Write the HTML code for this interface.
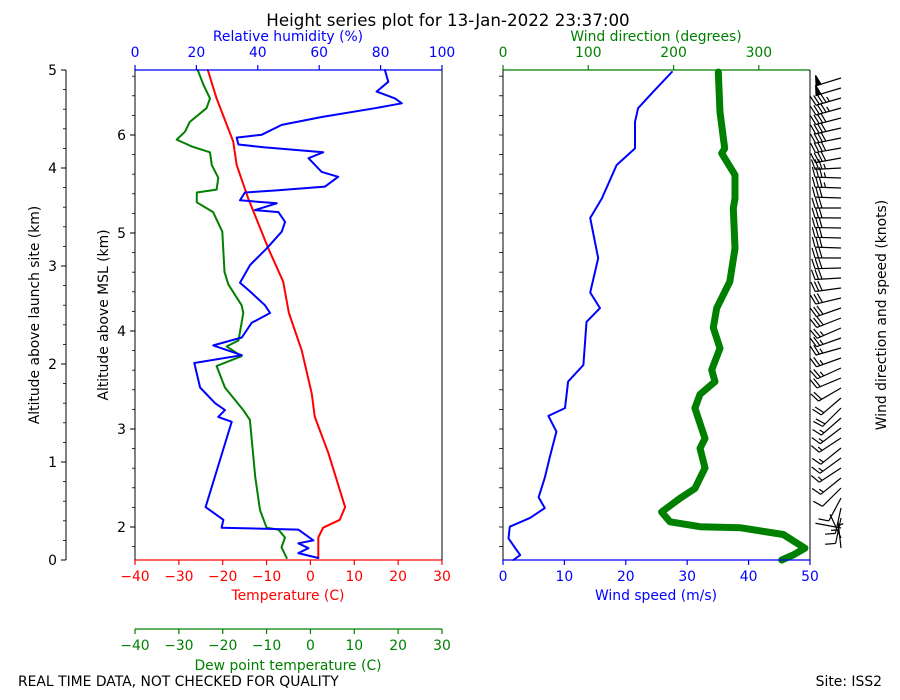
<!DOCTYPE html>
<html><head><meta charset="utf-8"><style>
body{margin:0;background:#fff}
svg{display:block;font-family:"DejaVu Sans","Liberation Sans",sans-serif}
</style></head><body>
<svg id="chart" width="900" height="700" viewBox="0 0 900 700" xmlns="http://www.w3.org/2000/svg">
<text x="448" y="26" font-size="16.7" text-anchor="middle">Height series plot for 13-Jan-2022 23:37:00</text>
<text x="18" y="686" font-size="13.9">REAL TIME DATA, NOT CHECKED FOR QUALITY</text>
<text x="882" y="686" font-size="13.9" text-anchor="end">Site: ISS2</text>
<g id="g"></g>
</svg>
<script>
// ---- data (altitude above launch site, km) ----
const tempAlt=[5.0,4.71,4.27,4.03,3.69,3.18,2.84,2.52,2.14,1.70,1.46,1.09,0.54,0.41,0.33,0.23,0.02];
const tempVal=[-23.4,-21.4,-17.6,-16.8,-14.2,-9.6,-6.2,-4.9,-2.0,0.3,1.0,4.1,7.9,6.7,2.9,1.8,1.8];
const dewAlt=[5.0,4.85,4.71,4.61,4.47,4.37,4.29,4.22,4.16,4.03,3.90,3.78,3.75,3.65,3.55,3.35,2.94,2.81,2.60,2.52,2.24,2.18,2.08,1.98,1.76,1.53,1.43,0.85,0.51,0.33,0.31,0.23,0.13,0.02];
const dewVal=[-25.7,-24.4,-22.9,-23.7,-27.5,-28.6,-30.5,-27.1,-22.9,-22.5,-21.0,-21.4,-25.9,-25.9,-22.2,-20.1,-19.6,-18.7,-15.7,-15.3,-16.4,-19.1,-15.7,-21.4,-19.5,-15.3,-13.8,-12.6,-11.5,-10.0,-7.3,-5.8,-6.6,-5.4];
const rhAlt=[5.0,4.88,4.78,4.71,4.66,4.61,4.52,4.44,4.34,4.31,4.24,4.21,4.16,4.10,3.96,3.91,3.81,3.77,3.75,3.67,3.64,3.57,3.55,3.45,3.35,3.18,3.01,2.83,2.74,2.60,2.52,2.42,2.27,2.19,2.09,2.01,1.76,1.60,1.53,1.46,1.41,1.02,0.54,0.41,0.33,0.31,0.20,0.17,0.12,0.07,0.02];
const rhVal=[81.4,82.5,78.7,84.7,86.9,78.2,60.8,47.8,41.3,33.1,33.7,42.3,61.3,56.5,60.8,66.2,61.9,45.6,35.8,34.2,46.2,39.1,46.7,48.9,47.8,42.9,37.5,34.2,37.5,42.3,44.0,38.0,34.8,25.5,34.8,19.3,21.2,26.1,29.3,27.1,31.5,27.7,23.0,28.8,28.2,53.2,58.1,53.2,56.5,53.2,59.7];
const spdAlt=[4.98,4.78,4.61,4.47,4.20,4.03,3.69,3.49,3.08,2.73,2.57,2.43,1.99,1.82,1.55,1.47,1.31,1.07,0.84,0.64,0.53,0.43,0.34,0.22,0.12,0.05,0.0];
const spdVal=[27.5,24.5,22.0,21.5,21.5,18.5,16.1,14.2,15.5,14.2,15.8,13.6,13.1,10.6,10.1,7.4,8.7,7.7,6.8,5.8,6.8,4.4,1.1,0.9,2.0,2.8,1.7];
const dirAlt=[4.98,4.57,4.20,4.15,3.93,3.69,3.59,3.18,2.84,2.57,2.37,2.16,1.94,1.82,1.69,1.55,1.24,1.14,0.94,0.73,0.63,0.49,0.39,0.34,0.33,0.26,0.12,0.05,0.0];
const dirVal=[252.5,254.5,260,256.4,272,272,270,272,266,250.6,246.6,254.5,244.7,248.6,231,225,236.9,231,236.9,225,207.6,186,195.8,231,278,328.7,354,340,326.8];
const tempTicks=[-40,-30,-20,-10,0,10,20,30];
const rhTicks=[0,20,40,60,80,100];
const dirTicks=[0,100,200,300];
const spdTicks=[0,10,20,30,40,50];
const altTicks=[0,1,2,3,4,5];
const mslTicks=[2,3,4,5,6];
// ---- scales ----
const Y0=560,YT=70,MSL=1.663;
const FS=13.9;
const yA=h=>Y0-(Y0-YT)*h/5;
const xT=t=>135+(t+40)*(442-135)/70;
const xRH=r=>135+r*(442-135)/100;
const xD=d=>503+d*(810-503)/360;
const xS=s=>503+s*(810-503)/50;
const NS="http://www.w3.org/2000/svg";
const G=document.getElementById('g');
function mk(tag,at,parent){const e=document.createElementNS(NS,tag);for(const k in at)e.setAttribute(k,at[k]);(parent||G).appendChild(e);return e;}
function txt(s,at){const e=mk('text',at);e.textContent=s;return e;}
function poly(xs,ys,fx,col,w,name){
  const pts=xs.map((a,i)=>fx(ys[i]).toFixed(1)+','+yA(a).toFixed(1)).join(' ');
  const p=mk('polyline',{points:pts,fill:'none',stroke:col,'stroke-width':w,'stroke-linejoin':'round','stroke-linecap':'round'});
  
  
  return p;
}
// series
poly(tempAlt,tempVal,xT,'#ff0000',2,'temperature-line');
poly(dewAlt,dewVal,xT,'#008000',2,'dewpoint-line');
poly(rhAlt,rhVal,xRH,'#0000ff',2,'humidity-line');
poly(spdAlt,spdVal,xS,'#0000ff',2,'wind-speed-line');
poly(dirAlt,dirVal,xD,'#008000',7,'wind-direction-line');
// frames
function line(x1,y1,x2,y2,c,w,name){const l=mk('line',{x1,y1,x2,y2,stroke:c,'stroke-width':w||1});return l;}
line(135,70,442,70,'#0000ff',1.2,'rh-axis-spine');
line(135,560,442,560,'#ff0000',1.2,'temp-axis-spine');
line(135,70,135,560,'#000',1,'msl-axis-spine');
line(442,70,442,560,'#000',1,'left-panel-right-spine');
line(503,70,810,70,'#008000',1.2,'dir-axis-spine');
line(503,560,810,560,'#0000ff',1.2,'speed-axis-spine');
line(503,70,503,560,'#000',1,'right-panel-left-spine');
line(810,70,810,560,'#000',1,'right-panel-right-spine');
line(66,70,66,560,'#000',1,'launch-axis-spine');
line(135,629,442,629,'#008000',1.2,'dew-axis-spine');
// ticks
tempTicks.forEach(t=>{const x=xT(t);line(x,560,x,565,'#ff0000',1.2,'temp-tick');
 const e=txt(String(t).replace('-','\u2212'),{x,y:581,'font-size':FS,fill:'#ff0000','text-anchor':'middle'});
 line(x,629,x,634,'#008000',1.2,'dew-tick');
 const d=txt(String(t).replace('-','\u2212'),{x,y:650,'font-size':FS,fill:'#008000','text-anchor':'middle'});});
rhTicks.forEach(r=>{const x=xRH(r);line(x,65,x,70,'#0000ff',1.2,'rh-tick');
 const e=txt(String(r),{x,y:57,'font-size':FS,fill:'#0000ff','text-anchor':'middle'});});
dirTicks.forEach(d=>{const x=xD(d);line(x,65,x,70,'#008000',1.2,'dir-tick');
 const e=txt(String(d),{x,y:57,'font-size':FS,fill:'#008000','text-anchor':'middle'});});
spdTicks.forEach(s=>{const x=xS(s);line(x,560,x,565,'#0000ff',1.2,'speed-tick');
 const e=txt(String(s),{x,y:581,'font-size':FS,fill:'#0000ff','text-anchor':'middle'});});
altTicks.forEach(a=>{const y=yA(a);line(61,y,66,y,'#000',1,'alt-tick');
 const e=txt(String(a),{x:57,y:y+5,'font-size':FS,'text-anchor':'end'});});
for(let a=0;a<=5.001;a+=0.2){line(63,yA(a),66,yA(a),'#000',0.8,'alt-minor-tick');}
mslTicks.forEach(m=>{const y=yA(m-MSL);line(130,y,135,y,'#000',1,'msl-tick');
 const e=txt(String(m),{x:126,y:y+5,'font-size':FS,'text-anchor':'end'});});
for(let m=1.8;m<=6.7;m+=0.2){const y=yA(m-MSL);if(y<70||y>560)continue;line(132,y,135,y,'#000',0.8,'msl-minor-tick');line(499,y,503,y,'#000',0.8,'right-panel-tick');}
// axis titles
function lab(s,at,name){const e=txt(s,at);}
lab('Relative humidity (%)',{x:288,y:41,'font-size':FS,fill:'#0000ff','text-anchor':'middle'},'rh-axis-title');
lab('Wind direction (degrees)',{x:656,y:41,'font-size':FS,fill:'#008000','text-anchor':'middle'},'dir-axis-title');
lab('Temperature (C)',{x:288,y:600,'font-size':FS,fill:'#ff0000','text-anchor':'middle'},'temp-axis-title');
lab('Wind speed (m/s)',{x:656,y:600,'font-size':FS,fill:'#0000ff','text-anchor':'middle'},'speed-axis-title');
lab('Dew point temperature (C)',{x:288,y:670,'font-size':FS,fill:'#008000','text-anchor':'middle'},'dew-axis-title');
lab('Altitude above launch site (km)',{x:0,y:0,'font-size':FS,'text-anchor':'middle',transform:'translate(39,315) rotate(-90)'},'launch-axis-title');
lab('Altitude above MSL (km)',{x:0,y:0,'font-size':FS,'text-anchor':'middle',transform:'translate(108,315) rotate(-90)'},'msl-axis-title');
lab('Wind direction and speed (knots)',{x:0,y:0,'font-size':FS,'text-anchor':'middle',transform:'translate(886,315) rotate(-90)'},'barb-axis-title');
// wind barbs
function interp(xs,ys,h){for(let i=0;i<xs.length-1;i++){const a=xs[i],b=xs[i+1];if((h<=a&&h>=b)){const f=(a===b)?0:(h-a)/(b-a);return ys[i]+f*(ys[i+1]-ys[i]);}}return ys[ys.length-1];}
const bg=mk('g',{stroke:'#000','stroke-width':1.2,fill:'#000'});


for(let y=78;y<=552;y+=10){
  const h=(Y0-y)/98;const sp=interp(spdAlt,spdVal,h)*1.944;const dr=interp(dirAlt,dirVal,h)*Math.PI/180;
  const bx=841,by=y,L=26;
  const ux=Math.sin(dr),uy=-Math.cos(dr);
  const tx=bx+ux*L,ty=by+uy*L;
  const px=-uy,py=ux;
  const b=mk('g',{},bg);
  
  
  mk('line',{x1:bx,y1:by,x2:tx,y2:ty},b);
  let s=Math.round(sp/5)*5,pos=0;
  const step=3.5;
  while(s>=50){const ax=tx-ux*pos,ay=ty-uy*pos,cx=tx-ux*(pos+5),cy=ty-uy*(pos+5);
    mk('polygon',{points:`${ax},${ay} ${ax+px*10-ux*2.5},${ay+py*10-uy*2.5} ${cx},${cy}`},b);pos+=6;s-=50;}
  while(s>=10){const ax=tx-ux*pos,ay=ty-uy*pos;mk('line',{x1:ax,y1:ay,x2:ax+px*10+ux*3,y2:ay+py*10+uy*3},b);pos+=step;s-=10;}
  if(s>=5){if(pos===0)pos=step;const ax=tx-ux*pos,ay=ty-uy*pos;mk('line',{x1:ax,y1:ay,x2:ax+px*5+ux*1.5,y2:ay+py*5+uy*1.5},b);}
}
</script>
</body></html>
